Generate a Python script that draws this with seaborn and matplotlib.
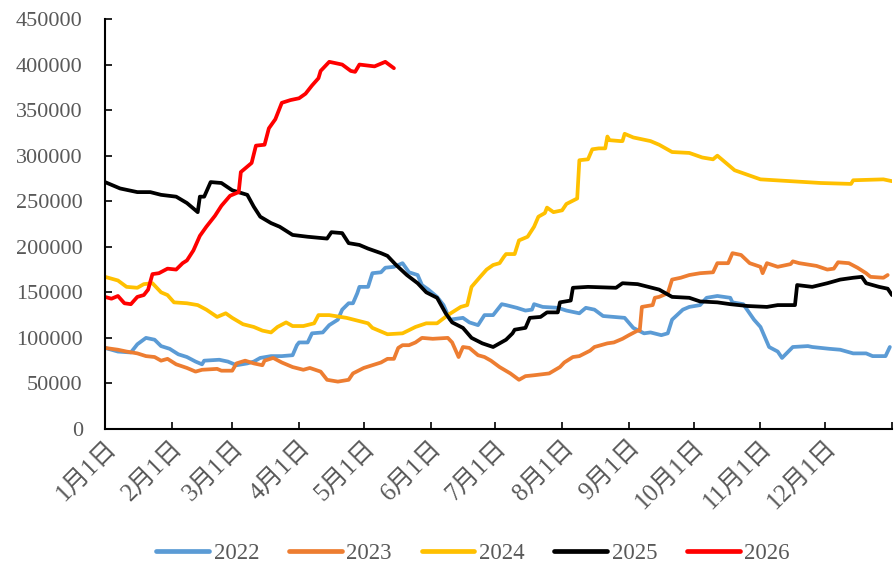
import matplotlib
matplotlib.use("Agg")
import matplotlib.pyplot as plt
import seaborn as sns
import pandas as pd

UNIT = 1000

days_2022 = [0, 6, 12, 15, 19, 23, 26, 30, 34, 38, 42, 45, 46, 53, 57, 61, 66, 69, 72, 77, 82, 87, 89, 90, 94, 96, 101, 104, 108, 110, 113, 115, 117, 118, 122, 124, 128, 130, 134, 138, 141, 145, 147, 150, 154, 157, 160, 166, 169, 173, 176, 180, 184, 186, 191, 195, 198, 199, 203, 210, 214, 220, 223, 227, 231, 236, 241, 245, 250, 253, 258, 261, 263, 268, 271, 276, 279, 284, 290, 291, 296, 301, 304, 308, 312, 314, 319, 326, 328, 336, 341, 347, 353, 356, 362, 364]
vals_2022 = [89, 85, 84, 93, 100, 98, 91, 88, 82, 79, 74, 71, 75, 76, 74, 70, 72, 74, 78, 80, 80, 81, 92, 95, 95, 105, 106, 114, 120, 131, 138, 138, 149, 156, 156, 171, 172, 177, 178, 182, 172, 169, 158, 153, 145, 136, 120, 122, 117, 114, 125, 125, 137, 136, 133, 130, 131, 137, 134, 133, 130, 127, 133, 131, 124, 123, 122, 111, 105, 106, 103, 105, 120, 131, 134, 136, 144, 146, 144, 139, 137, 120, 112, 90, 85, 78, 90, 91, 90, 88, 87, 83, 83, 80, 80, 90]

days_2023 = [0, 6, 10, 15, 19, 23, 26, 29, 33, 38, 42, 45, 52, 54, 59, 61, 65, 69, 73, 74, 78, 82, 87, 92, 95, 100, 103, 108, 113, 115, 120, 124, 128, 131, 134, 136, 138, 141, 144, 147, 152, 159, 161, 164, 166, 169, 173, 176, 179, 183, 188, 192, 195, 199, 206, 211, 213, 217, 220, 225, 227, 233, 236, 240, 243, 247, 248, 249, 254, 255, 257, 261, 263, 267, 271, 276, 282, 284, 289, 291, 295, 299, 304, 305, 307, 312, 318, 319, 322, 330, 335, 338, 340, 345, 349, 353, 355, 361, 363]
vals_2023 = [89, 87, 85, 83, 80, 79, 75, 77, 71, 67, 63, 65, 66, 64, 64, 72, 75, 72, 70, 75, 78, 73, 68, 65, 67, 63, 54, 52, 54, 61, 67, 70, 73, 77, 77, 89, 92, 92, 95, 100, 99, 100, 95, 79, 90, 89, 81, 79, 75, 68, 61, 54, 58, 59, 61, 68, 73, 79, 80, 86, 90, 94, 95, 99, 103, 108, 108, 134, 136, 144, 145, 149, 164, 166, 169, 171, 172, 182, 182, 193, 191, 182, 178, 171, 182, 178, 181, 184, 182, 179, 175, 176, 183, 182, 177, 171, 167, 166, 169]

days_2024 = [0, 6, 10, 15, 18, 22, 26, 29, 32, 38, 43, 47, 52, 56, 59, 64, 69, 73, 77, 80, 84, 87, 92, 97, 99, 104, 112, 122, 124, 131, 138, 144, 149, 154, 159, 165, 168, 170, 174, 177, 180, 183, 185, 186, 190, 192, 196, 199, 201, 204, 205, 208, 212, 214, 219, 220, 224, 226, 229, 232, 233, 234, 239, 240, 241, 245, 253, 257, 263, 271, 277, 282, 284, 288, 292, 298, 304, 318, 332, 346, 347, 361, 365]
vals_2024 = [167, 163, 156, 155, 159, 160, 150, 147, 139, 138, 136, 131, 123, 127, 122, 115, 112, 108, 106, 112, 117, 113, 113, 116, 125, 125, 122, 116, 111, 104, 105, 112, 116, 116, 125, 134, 136, 156, 167, 175, 180, 182, 189, 192, 192, 207, 211, 222, 233, 237, 243, 238, 240, 247, 253, 295, 296, 307, 308, 308, 321, 317, 316, 316, 324, 320, 316, 312, 304, 303, 298, 296, 300, 292, 284, 279, 274, 272, 270, 269, 273, 274, 272]

days_2025 = [0, 7, 15, 21, 26, 33, 38, 43, 44, 46, 49, 54, 59, 66, 69, 72, 77, 81, 87, 94, 103, 105, 110, 113, 118, 122, 128, 131, 135, 140, 145, 149, 154, 158, 161, 166, 170, 175, 180, 186, 189, 190, 195, 197, 202, 205, 210, 211, 216, 217, 224, 237, 240, 247, 257, 263, 271, 276, 284, 290, 298, 307, 312, 320, 321, 328, 335, 341, 347, 351, 353, 359, 363, 365]
vals_2025 = [271, 264, 260, 260, 257, 255, 248, 238, 255, 255, 271, 270, 262, 257, 244, 233, 226, 222, 213, 211, 209, 216, 215, 204, 202, 198, 193, 190, 180, 169, 160, 150, 144, 127, 117, 111, 100, 94, 90, 98, 105, 109, 111, 122, 123, 128, 128, 139, 141, 155, 156, 155, 160, 159, 153, 145, 144, 140, 139, 137, 135, 134, 136, 136, 158, 156, 160, 164, 166, 167, 160, 156, 154, 147]

days_2026 = [0, 3, 6, 9, 12, 15, 18, 20, 22, 25, 29, 33, 36, 38, 41, 44, 47, 51, 54, 58, 62, 63, 68, 70, 74, 76, 79, 82, 86, 90, 93, 96, 99, 100, 104, 110, 114, 116, 118, 125, 130, 134]
vals_2026 = [145, 143, 146, 138, 137, 145, 147, 153, 170, 171, 176, 175, 182, 185, 196, 212, 222, 234, 245, 256, 260, 282, 292, 311, 312, 330, 340, 358, 361, 363, 368, 377, 385, 393, 403, 400, 393, 392, 400, 398, 403, 396]

years = ["2022", "2023", "2024", "2025", "2026"]
colors = ["#5B9BD5", "#ED7D31", "#FFC000", "#000000", "#FF0000"]

month_ticks = [0, 31, 59, 90, 120, 151, 181, 212, 243, 273, 304, 334, 365]
month_labels = ["1月1日", "2月1日", "3月1日", "4月1日", "5月1日", "6月1日",
                "7月1日", "8月1日", "9月1日", "10月1日", "11月1日", "12月1日", ""]
y_ticks = [0, 50000, 100000, 150000, 200000, 250000, 300000, 350000, 400000, 450000]

series = {
    "2022": (days_2022, vals_2022),
    "2023": (days_2023, vals_2023),
    "2024": (days_2024, vals_2024),
    "2025": (days_2025, vals_2025),
    "2026": (days_2026, vals_2026),
}
rows = []
for yr in years:
    d, v = series[yr]
    for di, vi in zip(d, v):
        rows.append({"day": di, "value": vi * UNIT, "year": yr})
df = pd.DataFrame(rows)

sns.set_style("ticks")
plt.rcParams["font.family"] = ["Liberation Serif", "Noto Sans CJK SC", "DejaVu Sans"]

fig = plt.figure(figsize=(8.95, 5.64), dpi=100)
ax = fig.add_axes([105 / 895, 1 - 429 / 564, (892 - 105) / 895, (429 - 19) / 564])

sns.lineplot(data=df, x="day", y="value", hue="year", hue_order=years,
             palette=dict(zip(years, colors)), estimator=None, sort=False,
             linewidth=2.7, ax=ax, legend=False)

ax.set_xlim(0, 365)
ax.set_ylim(0, 450000)
ax.set_xticks(month_ticks)
ax.set_xticklabels(month_labels, rotation=45, ha="right", va="top",
                   rotation_mode="anchor")
ax.set_yticks(y_ticks)
ax.set_yticklabels([str(t) for t in y_ticks])
ax.set_xlabel("")
ax.set_ylabel("")

grey = "#595959"
ax.tick_params(axis="y", direction="in", length=5, width=1.2, pad=16,
               labelsize=16, labelcolor=grey, color="black")
ax.tick_params(axis="x", direction="in", length=5, width=1.2, pad=5,
               labelsize=18, labelcolor=grey, color="black")
for s in ["top", "right"]:
    ax.spines[s].set_visible(False)
for s in ["left", "bottom"]:
    ax.spines[s].set_linewidth(1.5)
    ax.spines[s].set_color("black")

handles = [plt.Line2D([], [], color=c, lw=3.4) for c in colors]
leg = fig.legend(handles, years, loc="center", bbox_to_anchor=(473 / 895, 1 - 553 / 564),
                 ncol=5, frameon=False, fontsize=16.5, handlelength=2.3,
                 handletextpad=0.2, columnspacing=1.3)
for t in leg.get_texts():
    t.set_color(grey)

fig.savefig("out.png", dpi=100)
